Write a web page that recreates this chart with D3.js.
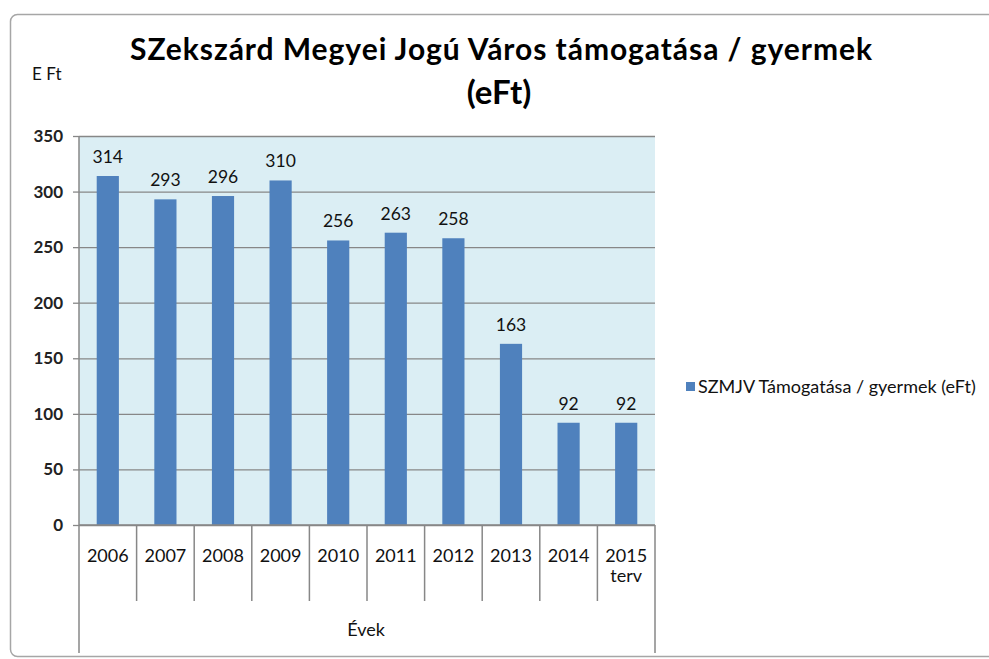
<!DOCTYPE html>
<html>
<head>
<meta charset="utf-8">
<script src="https://cdn.jsdelivr.net/npm/d3@7"></script>
<style>
  html, body { margin: 0; padding: 0; background: #fff; }
  svg { display: block; }
  text { font-family: Lato, "Open Sans", sans-serif; }
</style>
</head>
<body>
<svg id="chart" width="989" height="659"></svg>
<script>
const categories = ["2006", "2007", "2008", "2009", "2010", "2011", "2012", "2013", "2014", "2015\nterv"];
const values = [314, 293, 296, 310, 256, 263, 258, 163, 92, 92];
const yTicks = [0, 50, 100, 150, 200, 250, 300, 350];
const titleLines = ["SZekszárd Megyei Jogú Város támogatása / gyermek", "(eFt)"];
const seriesName = "SZMJV Támogatása / gyermek (eFt)";
const yUnit = "E Ft";
const xTitle = "Évek";

(function () {
const svg = d3.select("#chart");
const pLeft = 79, pRight = 655, pTop = 136, pBottom = 525;
const gridColor = "#878787";

// chart border
svg.append("rect")
  .attr("x", 10.5).attr("y", 14.5).attr("width", 990).attr("height", 642)
  .attr("rx", 7).attr("fill", "#fff").attr("stroke", "#a6a6a6").attr("stroke-width", 1.5);

const x = d3.scaleBand().domain(categories).range([pLeft, pRight])
  .paddingInner(0.615).paddingOuter(0.3075);
const xCat = d3.scaleBand().domain(categories).range([pLeft, pRight]).padding(0);
const y = d3.scaleLinear().domain([0, 350]).range([pBottom, pTop]);

// plot area
svg.append("rect").attr("x", pLeft).attr("y", pTop)
  .attr("width", pRight - pLeft).attr("height", pBottom - pTop).attr("fill", "#DBEEF4");

// gridlines + y axis
const yAxis = d3.axisLeft(y).tickValues(yTicks).tickSize(6).tickPadding(10);
const gy = svg.append("g").attr("transform", `translate(${pLeft},0)`).call(yAxis);
gy.select(".domain").remove();
gy.selectAll(".tick line").attr("stroke", gridColor).attr("stroke-width", 1.3);
gy.selectAll(".tick").append("line")
  .attr("x1", 0).attr("x2", pRight - pLeft)
  .attr("stroke", gridColor).attr("stroke-width", 1.3);
gy.selectAll(".tick text")
  .attr("font-size", 17).attr("font-weight", "bold").attr("fill", "#222")
  .style("font-family", "Lato, sans-serif");

// bars
svg.append("g").selectAll("rect").data(values).join("rect")
  .attr("x", (d, i) => x(categories[i]))
  .attr("y", d => y(d))
  .attr("width", x.bandwidth())
  .attr("height", d => y(0) - y(d))
  .attr("fill", "#4F81BD");

// data labels
svg.append("g").selectAll("text").data(values).join("text")
  .attr("x", (d, i) => x(categories[i]) + x.bandwidth() / 2)
  .attr("y", d => y(d) - 13)
  .attr("text-anchor", "middle")
  .attr("font-size", 17.5).attr("fill", "#111")
  .text(d => d);

// x axis: baseline, separators
const axisG = svg.append("g");
axisG.append("line").attr("x1", pLeft).attr("x2", pRight).attr("y1", pBottom).attr("y2", pBottom)
  .attr("stroke", gridColor).attr("stroke-width", 1.3);
axisG.append("line").attr("x1", pLeft).attr("x2", pLeft).attr("y1", pTop).attr("y2", 653)
  .attr("stroke", gridColor).attr("stroke-width", 1.5);
axisG.append("line").attr("x1", pRight).attr("x2", pRight).attr("y1", pBottom).attr("y2", 653)
  .attr("stroke", gridColor).attr("stroke-width", 1.5);
categories.slice(1).forEach(c => {
  axisG.append("line").attr("x1", xCat(c)).attr("x2", xCat(c)).attr("y1", pBottom).attr("y2", 601)
    .attr("stroke", gridColor).attr("stroke-width", 1.5);
});

// x labels
const xl = svg.append("g").selectAll("text").data(categories).join("text")
  .attr("x", d => xCat(d) + xCat.bandwidth() / 2)
  .attr("y", 562)
  .attr("text-anchor", "middle")
  .attr("font-size", 18).attr("fill", "#111");
xl.each(function(d) {
  const parts = d.split("\n");
  parts.forEach((p, i) => {
    d3.select(this).append("tspan").attr("x", xCat(d) + xCat.bandwidth() / 2)
      .attr("dy", i === 0 ? 0 : 20).text(p);
  });
});

// x title
svg.append("text").attr("x", (pLeft + pRight) / 2 - 1).attr("y", 636)
  .attr("text-anchor", "middle").attr("font-size", 18).attr("fill", "#111").text(xTitle);

// y unit
svg.append("text").attr("x", 32).attr("y", 80)
  .attr("font-size", 17).attr("fill", "#111").text(yUnit);

// title
titleLines.forEach((t, i) => {
  const tt = svg.append("text").attr("x", i === 0 ? 501 : 499).attr("y", 60 + i * 44)
    .attr("text-anchor", "middle").attr("font-size", i === 0 ? 30 : 33).attr("font-weight", "bold")
    .attr("fill", "#000").text(t);
  if (i === 0) tt.attr("textLength", 742).attr("lengthAdjust", "spacing");
});

// legend
const lg = svg.append("g").attr("transform", "translate(686,382)");
lg.append("rect").attr("width", 9).attr("height", 9).attr("fill", "#4F81BD");
lg.append("text").attr("x", 12).attr("y", 11).attr("font-size", 18).attr("fill", "#111").text(seriesName);
})();
</script>
</body>
</html>
